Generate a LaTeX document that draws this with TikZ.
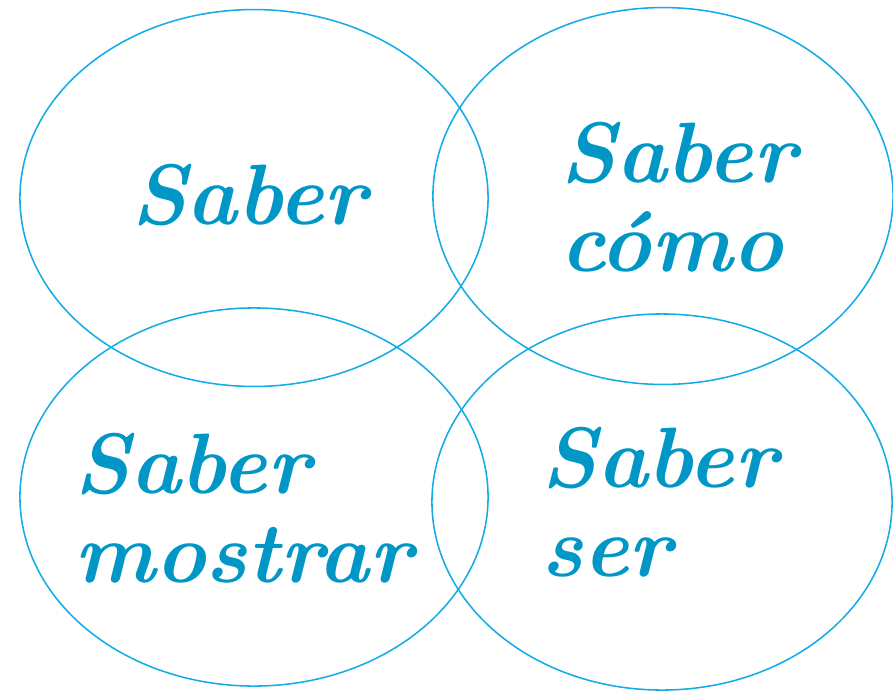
\documentclass[tikz,border=0pt]{standalone}
\definecolor{ringblue}{RGB}{20, 172, 232}
\definecolor{wordblue}{RGB}{0, 150, 198}
\usepackage{tikz}
\usetikzlibrary{shapes.geometric, positioning}

\begin{document}
\begin{tikzpicture}[
  x=0.025cm, y=-0.025cm,
  ring/.style={draw=ringblue, line width=1.1pt, ellipse, inner sep=0pt, outer sep=0pt},
  word/.style={text=wordblue, font=\fontsize{61}{63}\selectfont\bfseries\itshape, align=left, inner sep=0pt}
]
  \useasboundingbox (0,0) rectangle (893,692);
  % the four rings
  \node[ring, minimum width=11.7cm, minimum height=9.42cm] (saber) at (254,198) {};
  \node[ring, minimum width=11.5cm, minimum height=9.42cm] (como) at (663,196) {};
  \node[ring, minimum width=11.7cm, minimum height=9.45cm] (mostrar) at (254,497) {};
  \node[ring, minimum width=11.5cm, minimum height=9.4cm] (ser) at (662,502) {};
  % their words
  \node[word] (tsaber) at (249,195) {Saber};
  \node[word, anchor=west] (tcomo) at (560,197) {Saber\\c\'omo};
  \node[word, anchor=west] (tmostrar) at (74,508) {Saber\\mostrar};
  \node[word, anchor=west] (tser) at (541,502) {Saber\\ser};
\end{tikzpicture}
\end{document}
